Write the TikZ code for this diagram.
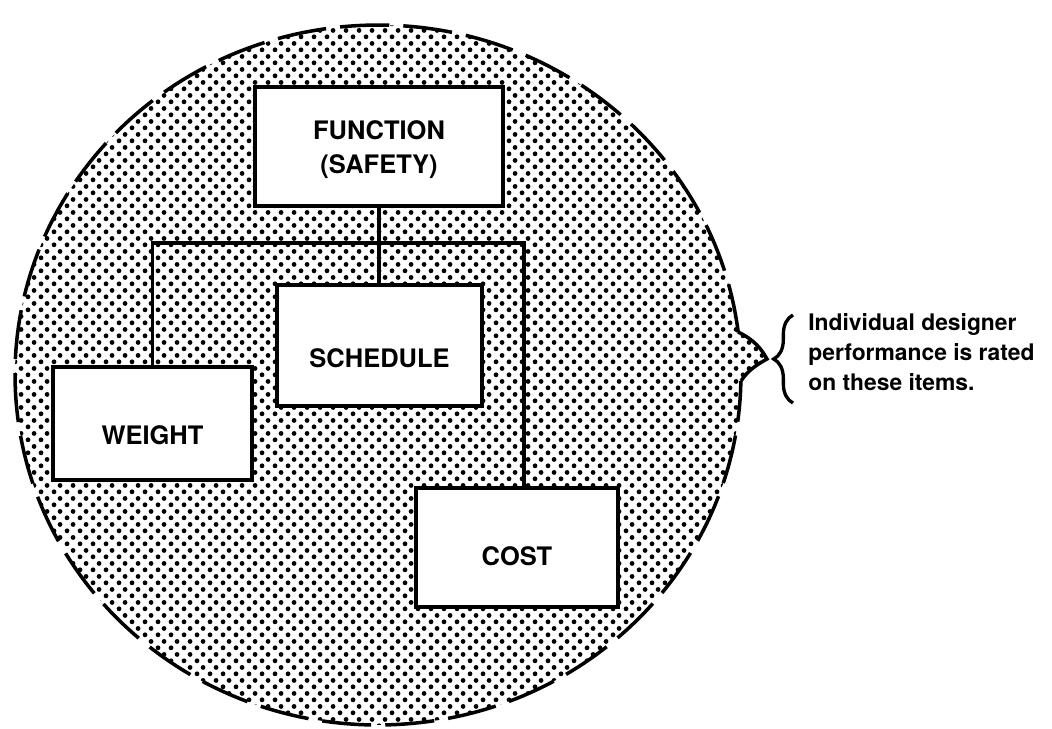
\documentclass[tikz,border=0pt]{standalone}
\usepackage{fontspec}
\setmainfont{TeX Gyre Heros}
\usetikzlibrary{patterns,decorations.pathreplacing}
\pgfdeclarepatternformonly{halftone}{\pgfqpoint{0pt}{0pt}}{\pgfqpoint{7.4pt}{7.6pt}}{\pgfqpoint{7.4pt}{7.6pt}}{%
  \pgfpathcircle{\pgfqpoint{1.85pt}{1.9pt}}{1.45pt}%
  \pgfpathcircle{\pgfqpoint{5.55pt}{5.7pt}}{1.45pt}%
  \pgfusepath{fill}%
}
\begin{document}
\begin{tikzpicture}[x=0.02cm,y=-0.02cm,
  box/.style={draw=black,fill=white,line width=2.1pt,inner sep=0pt},
  lbl/.style={font=\fontsize{14.5}{19.4}\selectfont\bfseries,align=center,inner sep=0pt},
  wire/.style={line width=2.1pt},
  rim/.style={line width=2pt,dash pattern=on 28pt off 8pt},
  note/.style={anchor=west,align=left,font=\fontsize{13}{17}\selectfont\bfseries,inner sep=0pt}]
\useasboundingbox (0,0) rectangle (1052,728);
% shaded bubble
\coordinate (ctr) at (378,375);
\coordinate (p1) at (738,332);
\coordinate (tip) at (767,359);
\coordinate (p2) at (741,381);
\fill[pattern=halftone] (ctr) ++(7:7.26cm and 7cm) arc[start angle=7,end angle=359,x radius=7.26cm,y radius=7cm]
  .. controls (748,370) and (758,364) .. (tip)
  .. controls (762,350) and (755,340) .. (p1) -- cycle;
\draw[rim] (ctr) ++(7:7.26cm and 7cm) arc[start angle=7,end angle=359,x radius=7.26cm,y radius=7cm];
\draw[line width=2pt] (p1) .. controls (755,340) and (762,350) .. (tip)
  .. controls (758,364) and (748,370) .. (p2);
% boxes
\node[box,minimum width=4.96cm,minimum height=2.38cm] (function) at (379,146.5) {};
\node[box,minimum width=3.98cm,minimum height=2.26cm] (weight) at (152.5,423.5) {};
\node[box,minimum width=4.1cm,minimum height=2.42cm] (schedule) at (379.5,345.5) {};
\node[box,minimum width=4.04cm,minimum height=2.38cm] (cost) at (517,547.5) {};
% connectors
\coordinate (bar) at (380,243);
\draw[wire] (weight.north) |- (bar) -| ([xshift=0.14cm]cost.north);
\draw[wire] (function.south) -- (function.south |- schedule.north);
% labels
\node[lbl] (tfunction) at ([yshift=-2pt]function.center) {FUNCTION\\(SAFETY)};
\node[lbl] (tweight) at ([yshift=-6.8pt]weight.center) {WEIGHT};
\node[lbl] (tschedule) at ([yshift=-7pt]schedule.center) {SCHEDULE};
\node[lbl] (tcost) at ([yshift=-5pt]cost.center) {COST};
% brace and note
\draw[line width=1.9pt,decorate,decoration={brace,amplitude=11pt}] (793,403) -- (793,315);
\node[note] (remark) at (808,352) {Individual designer\\performance is rated\\on these items.};
\end{tikzpicture}
\end{document}
